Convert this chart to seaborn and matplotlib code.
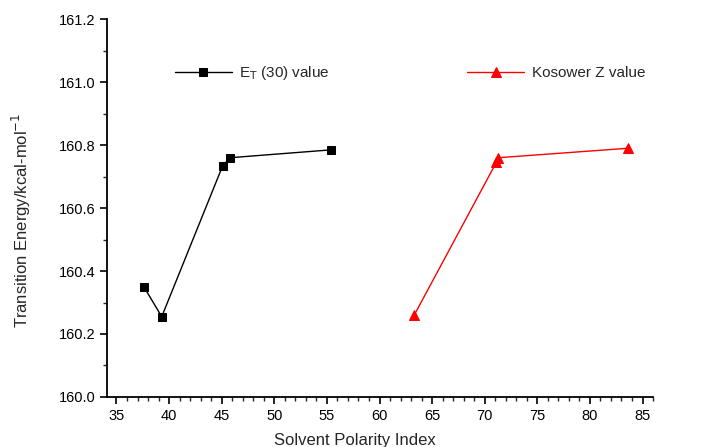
import matplotlib
matplotlib.use("Agg")
import matplotlib.pyplot as plt
import seaborn as sns
import pandas as pd
from matplotlib.ticker import MultipleLocator, FormatStrFormatter

et_x = [37.6, 39.3, 45.1, 45.8, 55.4]
et_y = [160.35, 160.255, 160.735, 160.76, 160.785]
kz_x = [63.3, 71.1, 71.3, 83.6]
kz_y = [160.26, 160.745, 160.76, 160.79]
et_label = "E$_{\\mathrm{T}}$ (30) value"
kz_label = "Kosower Z value"
x_title = "Solvent Polarity Index"
y_title = "Transition Energy/kcal-mol$^{-1}$"

sns.set_style("ticks")
plt.rcParams['font.family'] = ['Liberation Sans', 'DejaVu Sans']

fig = plt.figure(figsize=(7.06, 4.47), dpi=100)
ax = fig.add_axes([0.1516, 0.112, 0.7734, 0.845])

df_et = pd.DataFrame({"x": et_x, "y": et_y})
df_kz = pd.DataFrame({"x": kz_x, "y": kz_y})
sns.lineplot(data=df_et, x="x", y="y", ax=ax, color="black", marker="s",
             markersize=6, linewidth=1.0, sort=False, label=et_label,
             markeredgecolor="black", legend=False)
sns.lineplot(data=df_kz, x="x", y="y", ax=ax, color="red", marker="^",
             markersize=6.5, linewidth=1.0, sort=False, label=kz_label,
             markeredgecolor="red", legend=False)

ax.set_xlim(34.1, 86.0)
ax.set_ylim(160.0, 161.2)
ax.xaxis.set_major_locator(MultipleLocator(5))
ax.xaxis.set_minor_locator(MultipleLocator(1))
ax.yaxis.set_major_locator(MultipleLocator(0.2))
ax.yaxis.set_minor_locator(MultipleLocator(0.1))
ax.yaxis.set_major_formatter(FormatStrFormatter('%.1f'))
ax.tick_params(axis='both', which='major', direction='out', length=5, width=1.2,
               labelsize=10.5, colors='black')
ax.tick_params(axis='both', which='minor', direction='out', length=3, width=1.0)
for s in ["left", "bottom"]:
    ax.spines[s].set_linewidth(1.3)
    ax.spines[s].set_color("black")
sns.despine(ax=ax)

ax.set_xlabel(x_title, fontsize=12)
ax.set_ylabel(y_title, fontsize=12)
ax.xaxis.set_label_coords(0.454, -0.095)
ax.yaxis.set_label_coords(-0.135, 0.466)

lines = ax.get_lines()
leg1 = ax.legend(handles=[lines[0]], labels=[et_label], loc="center left",
                 bbox_to_anchor=(0.1245, 0.857), frameon=False, borderpad=0,
                 borderaxespad=0, handlelength=3.7, handletextpad=0.5, fontsize=11)
ax.add_artist(leg1)
ax.legend(handles=[lines[1]], labels=[kz_label], loc="center left",
          bbox_to_anchor=(0.66, 0.857), frameon=False, borderpad=0,
          borderaxespad=0, handlelength=3.7, handletextpad=0.5, fontsize=11)

fig.savefig("out.png", dpi=100)
